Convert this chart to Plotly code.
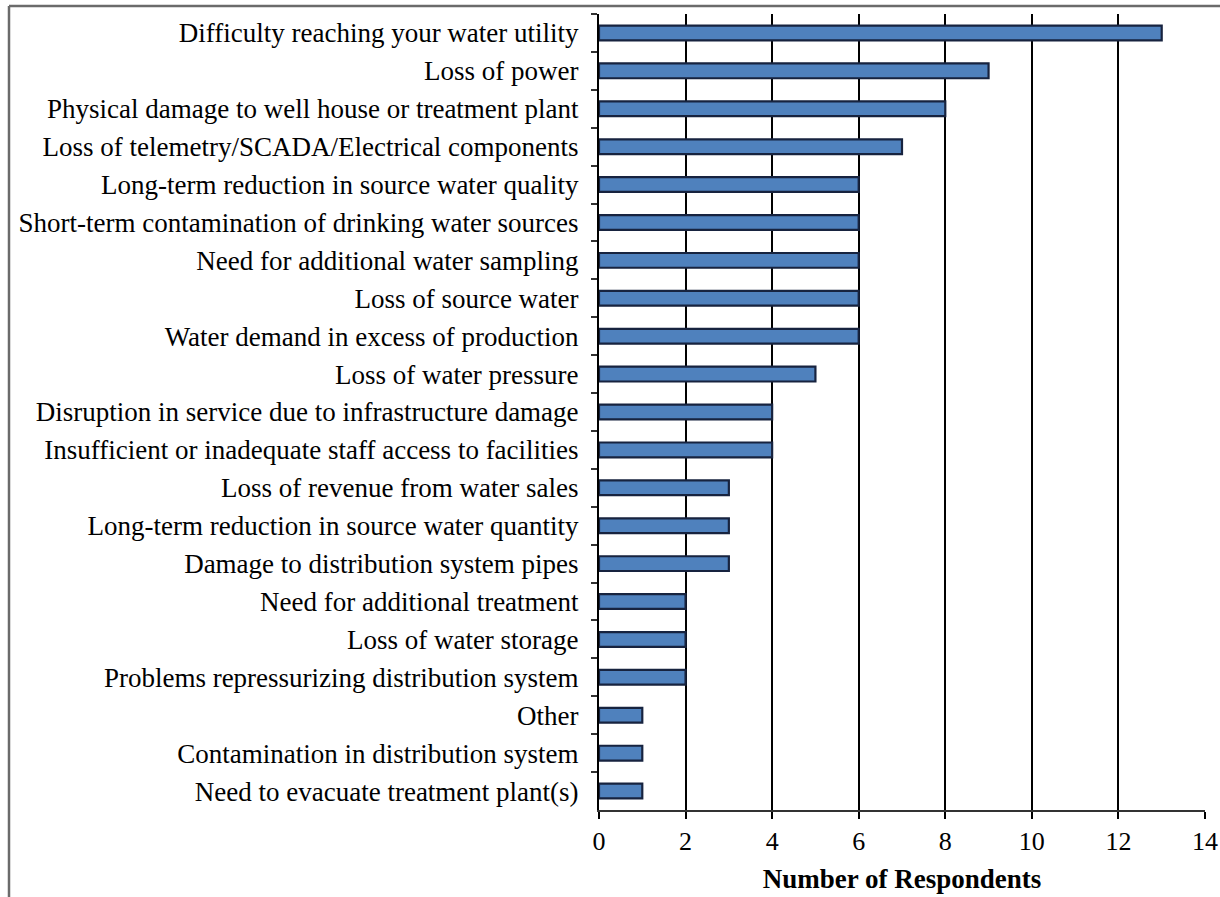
import plotly.graph_objects as go

categories = [
    "Difficulty reaching your water utility",
    "Loss of power",
    "Physical damage to well house or treatment plant",
    "Loss of telemetry/SCADA/Electrical components",
    "Long-term reduction in source water quality",
    "Short-term contamination of drinking water sources",
    "Need for additional water sampling",
    "Loss of source water",
    "Water demand in excess of production",
    "Loss of water pressure",
    "Disruption in service due to infrastructure damage",
    "Insufficient or inadequate staff access to facilities",
    "Loss of revenue from water sales",
    "Long-term reduction in source water quantity",
    "Damage to distribution system pipes",
    "Need for additional treatment",
    "Loss of water storage",
    "Problems repressurizing distribution system",
    "Other",
    "Contamination in distribution system",
    "Need to evacuate treatment plant(s)",
]
respondents = [13, 9, 8, 7, 6, 6, 6, 6, 6, 5, 4, 4, 3, 3, 3, 2, 2, 2, 1, 1, 1]
x_ticks = [0, 2, 4, 6, 8, 10, 12, 14]

W, H = 1220, 897
ML, MR, MT, MB = 599, 15, 14, 87
PW, PH = W - ML - MR, H - MT - MB

def px_x(px):
    return (px - ML) / PW

def px_y(py):
    return (H - MB - py) / PH

font_family = "Liberation Serif"

fig = go.Figure(go.Bar(
    x=respondents,
    y=categories,
    orientation="h",
    width=0.39,
    marker=dict(color="#4F81BD", line=dict(color="#17233F", width=2.2)),
))

fig.update_layout(
    width=W, height=H,
    autosize=False,
    margin=dict(l=ML, r=MR, t=MT, b=MB, autoexpand=False),
    paper_bgcolor="white",
    plot_bgcolor="white",
    showlegend=False,
    font=dict(family=font_family, size=27, color="black"),
    xaxis=dict(
        range=[0, 14],
        tickvals=x_ticks,
        automargin=False,
        showgrid=True, gridcolor="black", gridwidth=2,
        zeroline=False,
        showline=True, linecolor="#333333", linewidth=2,
        ticks="outside", ticklen=7, tickcolor="black", tickwidth=2,
        tickfont=dict(family=font_family, size=26),
        title=dict(text="<b>Number of Respondents</b>", font=dict(family=font_family, size=27), standoff=14),
    ),
    yaxis=dict(
        autorange="reversed",
        automargin=False,
        showgrid=False,
        showline=True, linecolor="black", linewidth=2,
        ticks="outside", ticklen=6, tickcolor="#333333", tickwidth=2,
        tickson="boundaries",
        ticklabelstandoff=13,
        tickfont=dict(family=font_family, size=27),
    ),
    shapes=[
        dict(type="line", xref="paper", yref="paper",
             x0=px_x(9), x1=px_x(1220), y0=px_y(6), y1=px_y(6),
             line=dict(color="#6b6b6b", width=2.5)),
        dict(type="line", xref="paper", yref="paper",
             x0=px_x(9), x1=px_x(9), y0=px_y(6), y1=px_y(897),
             line=dict(color="#6b6b6b", width=2.5)),
    ],
)

post = """
document.documentElement.style.margin='0';
document.body.style.margin='0';
document.documentElement.style.overflow='hidden';
document.body.style.overflow='hidden';
"""

fig.write_html(
    "out.html",
    config={"responsive": False, "displayModeBar": False},
    post_script=post,
)
